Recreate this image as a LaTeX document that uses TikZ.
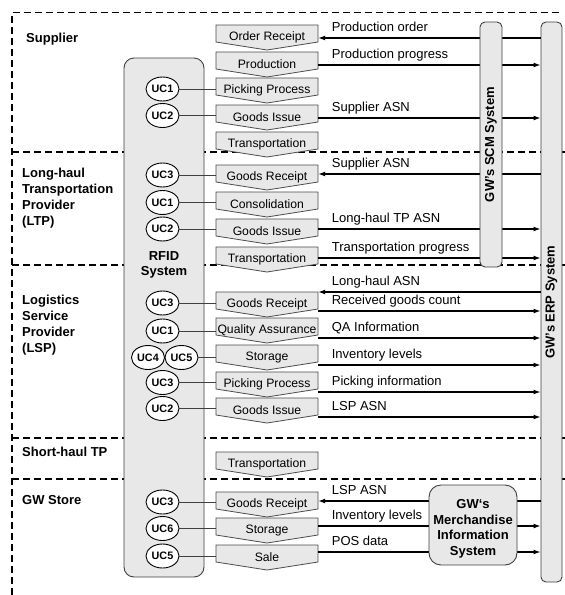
\documentclass[tikz,border=0pt]{standalone}
\usepackage{fontspec}
\setmainfont{Liberation Sans}
\usetikzlibrary{shapes.geometric,arrows.meta,calc}
\newcommand{\procbox}[3]{%
  \path[pshape] (216,#2) -- (318,#2) -- (318,#2+17) -- (267,#2+25) -- (216,#2+17) -- cycle;
  \node[ptext] (#1) at (267,#2+12.5) {#3};}
\begin{document}
\begin{tikzpicture}[x=1pt,y=-1pt,
  frame/.style={draw=black, line width=1.2pt, dash pattern=on 7pt off 4pt},
  lanelabel/.style={font=\fontsize{13}{16}\selectfont\bfseries, align=left, anchor=north west, inner sep=0pt},
  ptext/.style={minimum width=102pt, minimum height=25pt, inner sep=0pt, font=\fontsize{12.2}{14}\selectfont},
  pshape/.style={fill=gray!18, draw=black!70, line width=0.8pt},
  uc/.style={ellipse, draw=black, line width=0.9pt, fill=white, minimum width=33pt, minimum height=24pt, inner sep=0pt, font=\fontsize{10.8}{12}\selectfont\bfseries},
  ucline/.style={draw=black!75, line width=0.9pt},
  flow/.style={draw=black, line width=1.3pt, -{Latex[length=7pt,width=5pt]}},
  lab/.style={anchor=base west, inner sep=0pt, font=\fontsize{13}{15}\selectfont, xshift=13pt, yshift=6.5pt},
  sysbox/.style={draw=black!75, fill=gray!18, line width=0.9pt, rounded corners=5pt, inner sep=0pt},
  systext/.style={font=\fontsize{13}{15.5}\selectfont\bfseries, align=center, inner sep=0pt}
]
\useasboundingbox (0,0) rectangle (565,595);
\fill[white] (0,0) rectangle (565,595);

% outer frame and lane separators
\draw[frame] (12,595) -- (12,12.7) -- (562,12.7);
\foreach \y in {152,265,438,479} \draw[frame] (12,\y) -- (565,\y);

% ERP system
\node[sysbox, minimum width=21pt, minimum height=560pt] (erp) at (551.5,302) {};
\node[systext, rotate=90] (erptext) at (erp.center) {GW's ERP System};

% RFID system
\node[sysbox, rounded corners=10pt, minimum width=80pt, minimum height=519pt] (rfid) at (164,317.5) {};
\node[systext, anchor=north, align=center] (rfidtext) at (164,251.3) {RFID\\System};

% process boxes
\procbox{or1}{25}{Order Receipt}
\procbox{pr1}{52}{Production}
\procbox{pp1}{78}{Picking Process}
\procbox{gi1}{105}{Goods Issue}
\procbox{tr1}{132}{Transportation}
\procbox{gr2}{165}{Goods Receipt}
\procbox{co2}{192}{Consolidation}
\procbox{gi2}{219}{Goods Issue}
\procbox{tr2}{247}{Transportation}
\procbox{gr3}{292}{Goods Receipt}
\procbox{qa3}{318}{Quality Assurance}
\procbox{st3}{345}{Storage}
\procbox{pp3}{372}{Picking Process}
\procbox{gi3}{398}{Goods Issue}
\procbox{tr4}{452}{Transportation}
\procbox{gr5}{492}{Goods Receipt}
\procbox{st5}{518}{Storage}
\procbox{sa5}{545}{Sale}

% use cases
\node[uc] (uch4) at (148,357.5) {UC4};
\foreach \n/\x/\y/\t/\b in {uca/162.5/89/UC1/pp1, ucb/162.5/115.5/UC2/gi1,
  ucc/162.5/175/UC3/gr2, ucd/162.5/202.5/UC1/co2, uce/162.5/229/UC2/gi2,
  ucf/162.5/303/UC3/gr3, ucg/162.5/331/UC1/qa3, uch5/181.5/357.5/UC5/st3,
  uci/162.5/382.5/UC3/pp3, ucj/162.5/408.5/UC2/gi3,
  uck/162.5/502/UC3/gr5, ucl/162.5/528.5/UC6/st5, ucm/162.5/556/UC5/sa5} {
  \node[uc] (\n) at (\x,\y) {\t};
  \draw[ucline] (\n.east) -- (\b.west |- \n.east);
}

% information flows to ERP
\foreach \b/\y/\t in {pr1/65/Production progress, gi1/118/Supplier ASN,
  gi2/229/Long-haul TP ASN, tr2/258/Transportation progress,
  gr3/311/Received goods count, qa3/338/QA Information, st3/365/Inventory levels,
  pp3/392/Picking information, gi3/417/LSP ASN,
  st5/526/Inventory levels, sa5/552/POS data}
  \draw[flow] (\b.east |- 0,\y) -- (erp.west |- 0,\y) node[lab, at start] {\t};
% information flows from ERP
\foreach \b/\y/\t in {or1/38/Production order, gr2/174/Supplier ASN,
  gr3/292/Long-haul ASN, gr5/501/LSP ASN}
  \draw[flow] (erp.west |- 0,\y) -- (\b.east |- 0,\y) node[lab, at end] {\t};

% SCM system
\node[sysbox, minimum width=22pt, minimum height=245pt] (scm) at (491,144.5) {};
\node[systext, rotate=90] (scmtext) at (scm.center) {GW's SCM System};

% Merchandise information system
\node[sysbox, rounded corners=12pt, minimum width=88pt, minimum height=80pt] (mis) at (473,525) {};
\node[systext, anchor=north] (mistext) at (473,499.3) {GW‘s\\Merchandise\\Information\\System};

% lane labels
\node[lanelabel] (lsup) at (26,32.9) {Supplier};
\node[lanelabel] (lltp) at (22,168.2) {Long-haul\\Transportation\\Provider\\(LTP)};
\node[lanelabel] (llsp) at (22,294.5) {Logistics\\Service\\Provider\\(LSP)};
\node[lanelabel] (lsh) at (22,447.2) {Short-haul TP};
\node[lanelabel] (lgw) at (22,495.2) {GW Store};
\end{tikzpicture}
\end{document}
